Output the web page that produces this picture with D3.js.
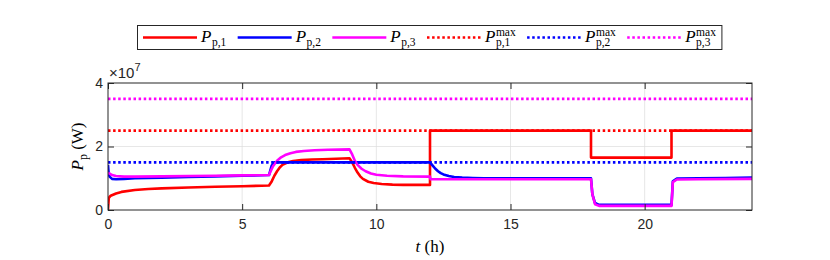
<!DOCTYPE html>
<html lang="en">
<head>
<meta charset="UTF-8">
<title>Pp</title>
<script src="https://d3js.org/d3.v7.min.js"></script>
<style>
    body { margin: 0; background: #fff; }
    .tick text { font-family: "Liberation Sans", Arial, sans-serif; font-size: 14px; fill: #262626; }
    .tex { font-family: "Liberation Serif", "Times New Roman", serif; fill: #000; }
</style>
</head>
<body>
<script>

// time (h) and power (x 10^7 W)
var tP1 = [0, 0.03, 0.1, 0.3, 0.5, 1, 1.5, 2, 3, 4, 5, 6, 6.1, 6.2, 6.3, 6.4, 6.5, 6.7, 6.9, 7.2, 7.6, 8, 9,
    9.1, 9.2, 9.3, 9.4, 9.5, 9.7, 9.9, 10.2, 10.6, 11, 12, 12, 18, 18, 21, 21, 24];
var vP1 = [0, 0.38, 0.45, 0.52, 0.57, 0.63, 0.66, 0.68, 0.71, 0.73, 0.75, 0.77, 0.9, 1.08, 1.22, 1.34, 1.42, 1.5, 1.54, 1.57, 1.59, 1.6, 1.63,
    1.5, 1.33, 1.18, 1.06, 0.98, 0.89, 0.85, 0.82, 0.8, 0.79, 0.79, 2.5, 2.5, 1.65, 1.65, 2.5, 2.5];

var tP2 = [0, 0.02, 0.06, 0.15, 0.3, 0.6, 1, 2, 3, 4, 5, 6, 6.05, 6.1, 6.2, 6.3, 12, 12.1, 12.2, 12.3, 12.4, 12.5,
    12.7, 12.9, 13.2, 13.6, 14, 18, 18.05, 18.15, 18.3, 21, 21.05, 21.2, 22, 23, 24];
var vP2 = [1.42, 1.2, 1.05, 0.98, 0.97, 0.98, 1.0, 1.02, 1.04, 1.06, 1.08, 1.1, 1.25, 1.4, 1.5, 1.5, 1.5, 1.4, 1.3, 1.22, 1.16, 1.12,
    1.07, 1.04, 1.02, 1.01, 1.0, 1.0, 0.5, 0.22, 0.16, 0.16, 0.9, 0.99, 1.0, 1.01, 1.02];

var tP3 = [0, 0.05, 0.15, 0.3, 0.6, 1, 2, 3, 4, 5, 6, 6.05, 6.15, 6.3, 6.45, 6.6, 6.8, 7, 7.3, 7.7, 8.2, 9,
    9.1, 9.2, 9.3, 9.45, 9.6, 9.8, 10, 10.4, 11, 12, 12.02, 18, 18.05, 18.15, 18.3, 21, 21.05, 21.2, 22, 24];
var vP3 = [1.17, 1.15, 1.1, 1.07, 1.05, 1.05, 1.06, 1.07, 1.08, 1.09, 1.1, 1.2, 1.38, 1.55, 1.66, 1.73, 1.79, 1.83, 1.86, 1.88, 1.9, 1.91,
    1.75, 1.55, 1.42, 1.3, 1.22, 1.15, 1.11, 1.08, 1.06, 1.05, 0.97, 0.97, 0.5, 0.18, 0.13, 0.13, 0.88, 0.96, 0.97, 0.98];

var pMax = [2.5, 1.5, 3.5];
var seriesColors = ["#ff0000", "#0000ff", "#ff00ff"];
var subLabels = ["p,1", "p,2", "p,3"];

var xTicks = [0, 5, 10, 15, 20];
var yTicks = [0, 2, 4];

var width = 830;
var height = 260;
var margin = {left: 108, right: 78, top: 83, bottom: 50};

var svg = d3.select("body")
    .append("svg")
    .attr("width", width)
    .attr("height", height);

var x = d3.scaleLinear().domain([0, 24]).range([margin.left, width - margin.right]);
var y = d3.scaleLinear().domain([0, 4]).range([height - margin.bottom, margin.top]);

// grid
svg.append("g").selectAll("line")
    .data(xTicks.slice(1))
    .enter().append("line")
    .attr("x1", function(d) { return x(d); }).attr("x2", function(d) { return x(d); })
    .attr("y1", y(0)).attr("y2", y(4))
    .attr("stroke", "#dcdcdc").attr("stroke-width", 0.7);
svg.append("g").selectAll("line")
    .data(yTicks.slice(1, -1))
    .enter().append("line")
    .attr("y1", function(d) { return y(d); }).attr("y2", function(d) { return y(d); })
    .attr("x1", x(0)).attr("x2", x(24))
    .attr("stroke", "#dcdcdc").attr("stroke-width", 0.7);

svg.append("clipPath").attr("id", "clip")
    .append("rect")
    .attr("x", x(0)).attr("y", y(4))
    .attr("width", x(24) - x(0)).attr("height", y(0) - y(4));

var line = d3.line()
    .x(function(d) { return x(d[0]); })
    .y(function(d) { return y(d[1]); });

var plot = svg.append("g").attr("clip-path", "url(#clip)");

var solid = [d3.zip(tP1, vP1), d3.zip(tP2, vP2), d3.zip(tP3, vP3)];
solid.forEach(function(pts, i) {
    plot.append("path")
        .attr("d", line(pts))
        .attr("fill", "none")
        .attr("stroke", seriesColors[i])
        .attr("stroke-width", 2.6)
        .attr("stroke-linejoin", "round");
});
pMax.forEach(function(v, i) {
    plot.append("path")
        .attr("d", line([[0, v], [24, v]]))
        .attr("fill", "none")
        .attr("stroke", seriesColors[i])
        .attr("stroke-width", 2.6)
        .attr("stroke-dasharray", "2.5,2.6");
});

// axes (ticks inside, box)
svg.append("g")
    .attr("transform", "translate(0," + y(0) + ")")
    .call(d3.axisBottom(x).tickValues(xTicks).tickSize(-6).tickSizeOuter(0).tickPadding(9).tickFormat(d3.format("d")))
    .call(function(g) { g.select(".domain").remove(); g.selectAll("line").attr("stroke", "#262626"); });
svg.append("g")
    .attr("transform", "translate(0," + y(4) + ")")
    .call(d3.axisTop(x).tickValues(xTicks).tickSize(-6).tickSizeOuter(0).tickFormat(""))
    .call(function(g) { g.select(".domain").remove(); g.selectAll("line").attr("stroke", "#262626"); });
svg.append("g")
    .attr("transform", "translate(" + x(0) + ",0)")
    .call(d3.axisLeft(y).tickValues(yTicks).tickSize(-6).tickSizeOuter(0).tickPadding(5).tickFormat(d3.format("d")))
    .call(function(g) { g.select(".domain").remove(); g.selectAll("line").attr("stroke", "#262626"); });
svg.append("g")
    .attr("transform", "translate(" + x(24) + ",0)")
    .call(d3.axisRight(y).tickValues(yTicks).tickSize(-6).tickSizeOuter(0).tickFormat(""))
    .call(function(g) { g.select(".domain").remove(); g.selectAll("line").attr("stroke", "#262626"); });

svg.append("rect")
    .attr("x", x(0)).attr("y", y(4))
    .attr("width", x(24) - x(0)).attr("height", y(0) - y(4))
    .attr("fill", "none").attr("stroke", "#262626").attr("stroke-width", 1);

// exponent label
var expo = svg.append("text")
    .attr("x", x(0) + 1).attr("y", y(4) - 5)
    .style("font-family", "'Liberation Sans', Arial, sans-serif")
    .style("font-size", "15px").style("fill", "#262626");
expo.append("tspan").text("\u00d710");
expo.append("tspan").attr("dy", -7).style("font-size", "11px").text("7");

// axis labels
var xl = svg.append("text").attr("class", "tex")
    .attr("x", (x(0) + x(24)) / 2).attr("y", 252)
    .attr("text-anchor", "middle").style("font-size", "17px");
xl.append("tspan").style("font-style", "italic").text("t");
xl.append("tspan").text(" (h)");

var yl = svg.append("text").attr("class", "tex")
    .attr("transform", "translate(83," + ((y(0) + y(4)) / 2) + ") rotate(-90)")
    .attr("text-anchor", "middle").style("font-size", "17px");
yl.append("tspan").style("font-style", "italic").text("P");
yl.append("tspan").attr("dy", 4).style("font-size", "12px").text("p");
yl.append("tspan").attr("dy", -4).text(" (W)");

// legend
var legBox = svg.append("rect")
    .attr("x", 137.5).attr("y", 25.5).attr("height", 24)
    .attr("fill", "#fff").attr("stroke", "#262626").attr("stroke-width", 1);
var lg = svg.append("g");
var cx = 143;
var legendItems = [0, 1, 2].map(function(i) { return {c: i, dotted: false}; })
    .concat([0, 1, 2].map(function(i) { return {c: i, dotted: true}; }));
legendItems.forEach(function(it) {
    lg.append("line")
        .attr("x1", cx).attr("x2", cx + 54)
        .attr("y1", 37.5).attr("y2", 37.5)
        .attr("stroke", seriesColors[it.c]).attr("stroke-width", 2.6)
        .attr("stroke-dasharray", it.dotted ? "2.5,2.6" : null);
    cx += 58;
    var p = lg.append("text").attr("class", "tex")
        .attr("x", cx).attr("y", 42)
        .style("font-size", "17px").style("font-style", "italic").text("P");
    var pw = p.node().getComputedTextLength() + 0.5;
    var sub = lg.append("text").attr("class", "tex")
        .attr("x", cx + pw).attr("y", it.dotted ? 46 : 45.5)
        .style("font-size", "11.5px").text(subLabels[it.c]);
    var w = sub.node().getComputedTextLength();
    if (it.dotted) {
        var sup = lg.append("text").attr("class", "tex")
            .attr("x", cx + pw).attr("y", 35.5)
            .style("font-size", "11.5px").text("max");
        w = Math.max(w, sup.node().getComputedTextLength());
    }
    cx += pw + w + 11.4;
});
legBox.attr("width", cx - 11.4 + 6 - 137.5);

</script>
</body>
</html>
